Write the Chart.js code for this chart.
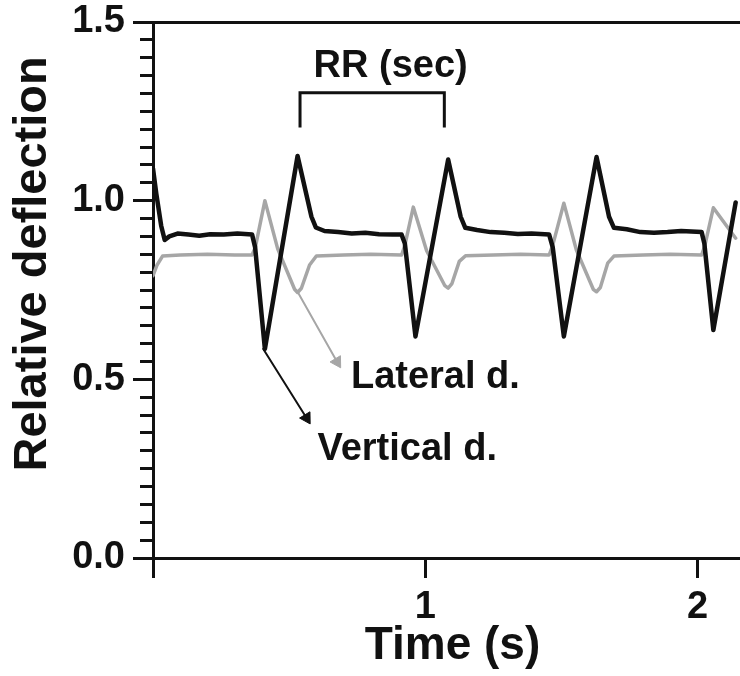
<!DOCTYPE html>
<html>
<head>
<meta charset="utf-8">
<script src="https://cdn.jsdelivr.net/npm/chart.js@4.4.1/dist/chart.umd.min.js"></script>
<style>
  html, body { margin: 0; padding: 0; background: #fff; overflow: hidden; }
  #wrap { width: 740px; height: 676px; overflow: hidden; }
</style>
</head>
<body>
<div id="wrap"><canvas id="deflectionChart" width="760" height="676"></canvas></div>
<script>
// vertical deflection (black trace), time in s
const vertTime = [0, 0.012, 0.03, 0.043, 0.06, 0.09, 0.13, 0.17, 0.21, 0.26, 0.31, 0.364, 0.375, 0.411,
  0.531, 0.582, 0.598, 0.63, 0.68, 0.73, 0.78, 0.83, 0.88, 0.913, 0.925, 0.964,
  1.084, 1.13, 1.147, 1.19, 1.24, 1.29, 1.34, 1.39, 1.455, 1.468, 1.509,
  1.629, 1.675, 1.693, 1.74, 1.79, 1.84, 1.89, 1.94, 2.015, 2.025, 2.058, 2.14];
const vertValue = [1.09, 1.02, 0.93, 0.89, 0.9, 0.908, 0.905, 0.902, 0.906, 0.905, 0.908, 0.905, 0.87, 0.585,
  1.125, 0.955, 0.925, 0.915, 0.912, 0.908, 0.91, 0.906, 0.905, 0.905, 0.88, 0.62,
  1.115, 0.955, 0.924, 0.918, 0.912, 0.91, 0.907, 0.908, 0.905, 0.87, 0.62,
  1.122, 0.955, 0.924, 0.92, 0.912, 0.91, 0.912, 0.915, 0.912, 0.88, 0.638, 0.995];

// lateral deflection (grey trace)
const latTime = [0, 0.015, 0.035, 0.1, 0.2, 0.3, 0.364, 0.376, 0.411, 0.458, 0.52, 0.531, 0.545, 0.575, 0.6,
  0.7, 0.8, 0.913, 0.925, 0.956, 1.005, 1.072, 1.084, 1.098, 1.125, 1.148,
  1.25, 1.35, 1.455, 1.468, 1.509, 1.555, 1.617, 1.629, 1.643, 1.67, 1.693,
  1.8, 1.9, 2.015, 2.027, 2.058, 2.14];
const latValue = [0.79, 0.82, 0.845, 0.848, 0.85, 0.848, 0.848, 0.87, 1.0, 0.865, 0.752, 0.743, 0.755, 0.82, 0.845,
  0.848, 0.85, 0.848, 0.875, 0.982, 0.86, 0.762, 0.755, 0.768, 0.83, 0.846,
  0.848, 0.85, 0.848, 0.875, 0.993, 0.862, 0.752, 0.745, 0.757, 0.825, 0.845,
  0.848, 0.85, 0.848, 0.875, 0.98, 0.895];

const xTicks = [0, 1, 2];
const xTickLabels = ['', '1', '2'];
const yTicks = [0, 0.5, 1, 1.5];
const yTickLabels = ['0.0', '0.5', '1.0', '1.5'];

// annotations
const rrTime = [0.54, 0.54, 1.07, 1.07];
const rrValue = [1.205, 1.302, 1.302, 1.205];
const vertArrowTime = [0.405, 0.564];
const vertArrowValue = [0.585, 0.392];
const latArrowTime = [0.533, 0.676];
const latArrowValue = [0.742, 0.549];
const noteTexts = ['RR (sec)', 'Lateral d.', 'Vertical d.'];
const noteTime = [0.873, 0.727, 0.604];
const noteValue = [1.346, 0.476, 0.274];
const noteAlign = ['center', 'left', 'left'];

const FONT = "'Liberation Sans', Arial, Helvetica, sans-serif";
const INK = '#111111';
const GREY = '#a6a6a6';
const tickFont = { family: FONT, size: 38, weight: 'bold' };
const titleFont = { family: FONT, size: 46, weight: 'bold' };

const pts = (ts, vs) => ts.map((t, i) => ({ x: t, y: vs[i] }));

const notePlugin = {
  id: 'notes',
  afterDatasetsDraw(chart) {
    const { ctx, scales: { x, y } } = chart;
    ctx.save();
    ctx.font = `bold 38px ${FONT}`;
    ctx.fillStyle = INK;
    ctx.textBaseline = 'alphabetic';
    noteTexts.forEach((text, i) => {
      ctx.textAlign = noteAlign[i];
      ctx.fillText(text, x.getPixelForValue(noteTime[i]), y.getPixelForValue(noteValue[i]));
    });
    ctx.restore();
  }
};

const line = { pointRadius: 0, tension: 0, borderJoinStyle: 'round', borderCapStyle: 'round', fill: false };

new Chart(document.getElementById('deflectionChart'), {
  type: 'line',
  data: {
    datasets: [
      { ...line, label: 'Vertical d.', data: pts(vertTime, vertValue), borderColor: INK, borderWidth: 4.5 },
      { ...line, label: 'Lateral d.', data: pts(latTime, latValue), borderColor: GREY, borderWidth: 3.5 },
      { ...line, label: 'RR', data: pts(rrTime, rrValue), borderColor: INK, borderWidth: 3, borderJoinStyle: 'miter', borderCapStyle: 'butt' },
      {
        ...line, label: 'vert arrow', data: pts(vertArrowTime, vertArrowValue), borderColor: INK, borderWidth: 2,
        pointRadius: [0, 7], pointStyle: 'triangle', pointRotation: [0, 149],
        pointBackgroundColor: INK, pointBorderColor: INK, pointBorderWidth: 1
      },
      {
        ...line, label: 'lat arrow', data: pts(latArrowTime, latArrowValue), borderColor: GREY, borderWidth: 2,
        pointRadius: [0, 7], pointStyle: 'triangle', pointRotation: [0, 149],
        pointBackgroundColor: GREY, pointBorderColor: GREY, pointBorderWidth: 1
      }
    ]
  },
  options: {
    responsive: false,
    animation: false,
    events: [],
    layout: { padding: { top: 22, right: 3, bottom: 0, left: 0 } },
    plugins: { legend: { display: false }, tooltip: { enabled: false } },
    scales: {
      x: {
        type: 'linear', position: 'bottom', min: 0, max: 2.2,
        afterBuildTicks: (s) => { s.ticks = xTicks.map((v) => ({ value: v })); },
        afterFit: (s) => { s.height = 118; s.paddingLeft = 0; s.paddingRight = 0; },
        ticks: { font: tickFont, color: INK, padding: 7, maxRotation: 0, autoSkip: false, callback: (v, i) => xTickLabels[i] },
        grid: { drawOnChartArea: false, tickLength: 20, tickWidth: 3, tickColor: INK },
        border: { width: 3, color: INK },
        title: { display: true, text: 'Time (s)', font: titleFont, color: INK, padding: { top: 0, bottom: 2 } }
      },
      xTop: {
        type: 'linear', position: 'top', min: 0, max: 2.2,
        afterFit: (s) => { s.height = 0; },
        ticks: { display: false },
        grid: { display: false },
        border: { display: true, width: 3, color: INK }
      },
      y: {
        type: 'linear', position: 'left', min: 0, max: 1.5, weight: 1,
        afterBuildTicks: (s) => { s.ticks = yTicks.map((v) => ({ value: v })); },
        afterFit: (s) => { s.width = 153; s.paddingTop = 0; s.paddingBottom = 0; },
        ticks: { font: tickFont, color: INK, padding: 8, callback: (v, i) => yTickLabels[i] },
        grid: { drawOnChartArea: false, tickLength: 20, tickWidth: 3, tickColor: INK },
        border: { width: 3, color: INK },
        title: { display: true, text: '    Relative deflection', font: { ...titleFont, size: 47 }, color: INK, padding: { top: 5, bottom: 0 } }
      },
      yMinor: {
        type: 'linear', position: 'left', min: 0, max: 1.5, weight: 0,
        afterFit: (s) => { s.width = 0; s.paddingTop = 0; s.paddingBottom = 0; },
        ticks: { display: false, stepSize: 0.05 },
        grid: { drawOnChartArea: false, tickLength: 13, tickWidth: 3, tickColor: INK },
        border: { display: false }
      }
    }
  },
  plugins: [notePlugin]
});
</script>
</body>
</html>
